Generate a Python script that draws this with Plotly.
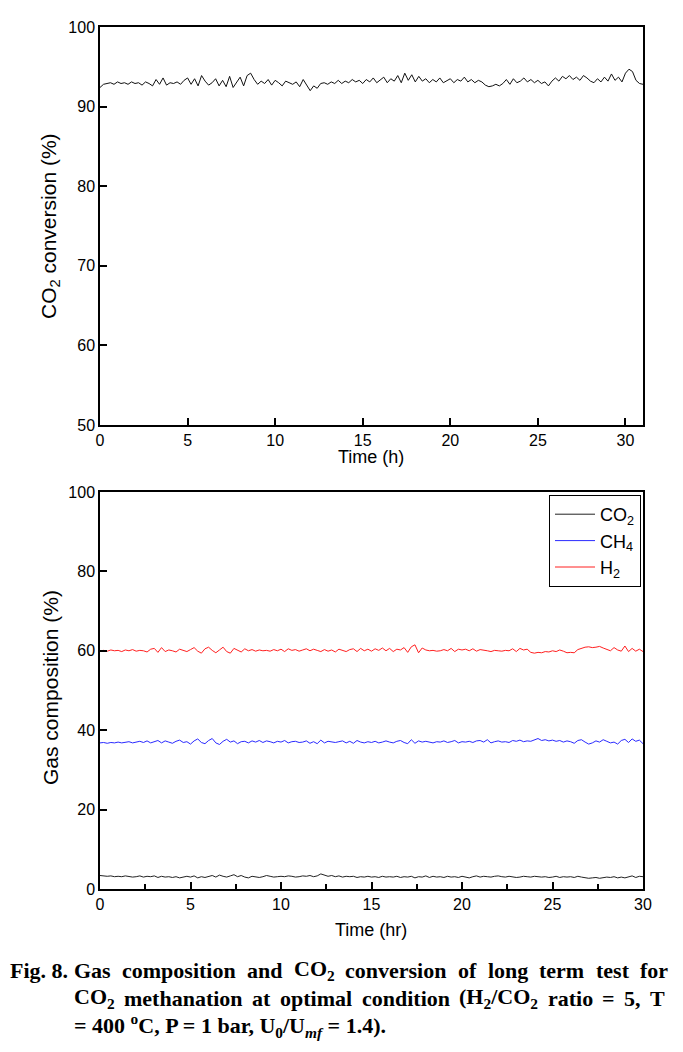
import plotly.graph_objects as go

# ---- data ----
conv_time = [round(i * 0.2, 2) for i in range(156)]
co2_conversion = [
    92.4, 92.8, 92.9, 93.0, 92.8,
    93.1, 92.9, 93.0, 92.8, 93.1,
    92.9, 93.0, 92.7, 93.1, 92.9,
    92.6, 93.4, 92.8, 93.6, 92.7,
    93.0, 92.9, 93.1, 92.8, 93.3,
    93.6, 92.8, 93.5, 92.6, 93.9,
    93.2, 92.7, 93.0, 93.5, 92.6,
    93.3, 92.5, 93.8, 92.4, 93.0,
    93.7, 92.6, 93.9, 94.2, 93.4,
    92.8, 93.2, 92.9, 93.4, 92.7,
    93.3, 93.0, 92.6, 93.2, 93.0,
    92.8, 93.1, 92.5, 93.4, 92.7,
    92.0, 92.6, 92.3, 92.9, 93.0,
    92.8, 93.1, 92.9, 93.3, 92.9,
    93.2, 93.0, 93.4, 93.1, 93.3,
    92.9, 93.4, 93.1, 93.6, 93.0,
    93.3, 93.7, 93.0, 93.5, 93.2,
    93.9, 93.0, 94.2, 93.3, 94.0,
    93.1, 93.8, 93.2, 93.5, 93.0,
    93.4, 93.1, 93.6, 93.0, 93.3,
    93.5, 93.0, 93.4, 93.2, 93.7,
    93.1, 93.4, 93.0, 93.3, 93.1,
    92.7, 92.5, 92.6, 92.8, 92.6,
    92.9, 93.4, 92.8, 93.5, 93.0,
    93.2, 93.6, 93.1, 93.4, 93.0,
    93.3, 92.9, 93.1, 92.6, 93.2,
    93.6, 93.2, 93.8, 93.5, 93.9,
    93.4, 93.7, 93.3, 93.9, 93.6,
    93.2, 93.0, 93.5, 93.1, 93.7,
    93.2, 94.1, 93.3, 93.7, 93.1,
    94.2, 94.7, 94.4, 93.3, 92.9, 92.8,
]

comp_time = [round(i * 0.2, 2) for i in range(151)]
h2_comp = [
    60.0, 60.1, 59.9, 60.2, 60.0,
    60.1, 59.8, 60.2, 60.0, 60.3,
    59.9, 60.1, 60.0, 59.7, 60.4,
    60.6, 59.6, 60.8, 59.8, 60.2,
    60.0, 59.7, 60.4, 60.1, 59.8,
    60.3, 60.8, 59.9, 59.4, 60.5,
    60.9, 60.1, 59.5, 60.2, 60.9,
    59.8, 59.4, 60.6, 60.2, 59.7,
    60.5, 60.0, 60.3, 59.9, 60.2,
    60.0, 60.1, 59.9, 60.3, 60.0,
    60.4, 59.8, 60.5, 60.1, 60.3,
    59.9, 60.2, 60.5, 60.0, 60.4,
    60.1, 59.8, 60.3, 59.9, 60.2,
    59.7, 60.4, 60.0, 59.8, 60.3,
    60.5, 59.8, 60.6, 60.0, 60.4,
    59.9, 60.5, 60.1, 60.7, 60.0,
    60.6, 59.8, 60.4, 60.2, 60.8,
    59.6, 61.0, 61.5, 59.5, 60.7,
    60.2, 60.0, 60.1, 59.9, 60.0,
    60.3, 60.0, 60.6, 59.8, 60.4,
    60.2, 60.4, 60.0, 60.5, 59.9,
    60.3, 60.2, 60.0, 59.8, 60.1,
    60.0, 59.9, 60.1, 60.0, 60.5,
    59.8, 60.6, 60.2, 60.4, 59.6,
    59.4, 59.6, 59.5, 59.8, 59.7,
    60.0, 59.8, 60.2, 59.9, 59.5,
    59.6, 59.5, 60.3, 60.6, 60.9,
    61.0, 60.8, 60.9, 61.1, 60.7,
    60.3, 60.0, 60.8, 60.2, 59.9,
    61.2, 59.8, 60.6, 59.9, 60.4, 59.8,
]
ch4_comp = [
    36.8, 36.9, 36.7, 36.9, 36.8,
    37.0, 36.8, 36.9, 37.1, 36.8,
    37.0, 37.2, 36.9, 37.3, 36.8,
    37.1, 37.4, 36.8, 37.3, 37.0,
    36.7, 37.2, 37.5, 36.9, 37.1,
    36.5, 37.3, 37.8, 36.9, 36.6,
    37.4, 37.9, 36.8, 36.4, 37.2,
    37.7, 37.0, 37.3, 36.6, 37.1,
    37.2, 36.8, 37.3, 37.0, 37.4,
    36.9, 37.3, 37.1, 36.8, 37.2,
    37.0, 37.4, 36.8, 37.1, 37.2,
    36.9, 37.0, 37.3, 36.7, 37.1,
    36.6, 37.5, 36.8, 37.2, 37.0,
    36.9, 37.1, 37.3, 36.8, 37.2,
    36.7, 37.4, 37.0, 36.8, 37.1,
    36.9, 37.2, 36.8, 37.0, 37.3,
    37.0, 36.8, 37.2, 37.4, 36.9,
    36.6, 37.6, 36.7, 37.3, 37.0,
    37.2, 37.0, 36.8, 37.1, 37.0,
    37.3, 36.9, 37.1, 37.4, 36.8,
    37.1, 37.0, 37.2, 36.9, 37.3,
    37.4, 37.0, 37.6, 36.8, 37.1,
    37.3, 37.0, 37.1, 36.9, 37.4,
    37.2, 37.5, 37.1, 37.3, 37.2,
    37.6, 37.9, 37.4, 37.6, 37.3,
    37.5, 37.2, 37.4, 37.0, 37.3,
    37.1, 36.7, 37.4, 37.6, 37.0,
    36.5, 36.8, 37.3, 37.0, 37.6,
    37.2, 36.8, 37.0, 36.5, 37.4,
    37.7, 36.9, 37.8, 37.2, 37.5, 36.6,
]
co2_comp = [
    3.4, 3.3, 3.2, 3.3, 3.1,
    3.2, 3.1, 3.3, 3.2, 3.0,
    3.1, 3.3, 3.0, 3.2, 3.1,
    3.3, 2.9, 3.2, 3.0, 3.1,
    2.9, 3.1, 2.8, 3.0, 3.2,
    3.0, 3.3, 2.8, 3.1, 2.9,
    3.2, 3.4, 3.0, 3.5, 3.2,
    3.0, 3.3, 3.6, 3.1, 3.4,
    3.0, 2.8, 3.2, 3.0, 2.9,
    3.1, 3.4, 3.2, 3.0, 3.1,
    3.2, 3.1, 3.3, 3.2, 3.0,
    3.1, 3.3, 3.2, 3.4, 3.1,
    3.3, 3.8, 3.5, 3.2, 3.4,
    3.1, 3.3, 3.0, 3.2, 3.1,
    3.2, 2.9, 3.1, 3.0, 3.2,
    3.0, 3.1, 2.9, 3.2, 3.0,
    3.1, 3.0, 3.2, 2.9, 3.1,
    3.0, 3.2, 2.8, 3.1, 3.0,
    3.3, 2.9, 3.2, 3.0, 3.1,
    2.9, 3.2, 3.0, 3.1, 2.9,
    3.2, 3.0, 2.8, 3.1, 3.3,
    3.0, 3.2, 3.1, 3.0, 3.2,
    3.3, 3.1, 3.0, 3.2, 3.1,
    2.9, 3.0, 3.2, 3.1, 3.0,
    3.2, 3.1, 3.0, 3.1, 2.9,
    3.0, 3.2, 2.9, 3.1, 3.0,
    3.1, 2.9, 3.2, 3.0, 2.8,
    2.7, 2.8, 2.9, 2.7, 2.8,
    3.0, 2.9, 3.1, 2.8, 3.0,
    2.8, 3.0, 3.3, 2.9, 3.2, 3.1,
]

series_names = ["CO<sub>2</sub>", "CH<sub>4</sub>", "H<sub>2</sub>"]
series_colors = ["#222222", "#2a2aff", "#ff2020"]
top_xticks = [0, 5, 10, 15, 20, 25, 30]
top_yticks = [50, 60, 70, 80, 90, 100]
bot_xticks = [0, 5, 10, 15, 20, 25, 30]
bot_xminor = [2.5, 7.5, 12.5, 17.5, 22.5, 27.5]
bot_yticks = [0, 20, 40, 60, 80, 100]

# caption: words of the two justified lines, as (main text, subscript) pieces
caption_label = "Fig. 8."
caption_line1 = ["Gas", "composition", "and", "CO|2", "conversion", "of", "long", "term", "test", "for"]
caption_line2 = ["CO|2", "methanation", "at", "optimal", "condition", "(H|2|/CO|2", "ratio", "=", "5,", "T"]
caption_line3 = "= 400 <sup>o</sup>C, P = 1 bar, U<sub>0</sub>/U<sub><i>mf</i></sub> = 1.4)."

FONT = "Liberation Sans, Arial, sans-serif"
SERIF = "Liberation Serif, Times New Roman, serif"

# approximate Times-Bold advance widths (per 1000 em) used to justify the caption
TB = {" ": 250, "(": 333, ")": 333, ",": 250, ".": 250, "/": 278, "=": 570,
      "C": 722, "F": 611, "G": 778, "H": 778, "O": 778, "P": 611, "T": 667, "U": 722,
      "a": 500, "b": 556, "c": 444, "d": 556, "e": 444, "f": 333, "g": 500, "h": 556,
      "i": 278, "l": 278, "m": 833, "n": 556, "o": 500, "p": 556, "r": 444, "s": 389,
      "t": 333, "v": 500}
for dch in "0123456789":
    TB[dch] = 500


def word_html_and_width(w, size):
    parts = w.split("|")
    html, width = "", 0.0
    for i, p in enumerate(parts):
        if i % 2 == 1:
            html += "<sub>" + p + "</sub>"
            width += sum(TB.get(c, 500) for c in p) * 0.7
        else:
            html += p
            width += sum(TB.get(c, 500) for c in p)
    return "<b>" + html + "</b>", width * size / 1000.0


fig = go.Figure()
fig.add_trace(go.Scatter(x=conv_time, y=co2_conversion, mode="lines",
                         line=dict(color="#111111", width=1), showlegend=False,
                         xaxis="x", yaxis="y"))
for name, col, ys in zip(series_names, series_colors, [co2_comp, ch4_comp, h2_comp]):
    fig.add_trace(go.Scatter(x=comp_time, y=ys, mode="lines", name=name,
                             line=dict(color=col, width=1), xaxis="x2", yaxis="y2"))

axis_common = dict(showline=True, linecolor="black", linewidth=1.5, mirror=True,
                   ticks="inside", ticklen=7, tickwidth=1.5, tickcolor="black",
                   showgrid=False, zeroline=False,
                   tickfont=dict(family=FONT, size=16, color="black"))

# page has an 8px body margin; plot area placed at page x 100..643, y 27..889
fig.update_layout(
    width=667, height=1036,
    margin=dict(l=92, r=32, t=19, b=155),
    paper_bgcolor="white", plot_bgcolor="white",
    font=dict(family=FONT, color="black"),
    xaxis=dict(domain=[0, 1], anchor="y", range=[0, 31], tickvals=top_xticks, **axis_common),
    yaxis=dict(domain=[0.5383, 1], anchor="x", range=[50, 100], tickvals=top_yticks, **axis_common),
    xaxis2=dict(domain=[0, 1], anchor="y2", range=[0, 30], tickvals=bot_xticks,
                minor=dict(tickvals=bot_xminor, ticks="inside", ticklen=5,
                           tickwidth=1.5, tickcolor="black"),
                **axis_common),
    yaxis2=dict(domain=[0, 0.4606], anchor="x2", range=[0, 100], tickvals=bot_yticks, **axis_common),
    legend=dict(x=(641 - 100) / 543, y=(889 - 495) / 862, xanchor="right", yanchor="top",
                bordercolor="black", borderwidth=1, bgcolor="white",
                font=dict(family=FONT, size=18, color="black"),
                itemwidth=40, tracegroupgap=0),
)


def px_x(p):
    return (p - 100) / 543


def px_y(p):
    return (889 - p) / 862


annotations = [
    dict(text="Time (h)", x=px_x(371), y=px_y(457)),
    dict(text="Time (hr)", x=px_x(371), y=px_y(930)),
    dict(text="CO<sub>2</sub> conversion (%)", x=px_x(50), y=px_y(226), textangle=-90),
    dict(text="Gas composition (%)", x=px_x(50), y=px_y(688), textangle=-90),
]
for a in annotations:
    a.update(xref="paper", yref="paper", showarrow=False, xanchor="center", yanchor="middle",
             font=dict(family=FONT, size=18 if "Time" in a["text"] else 21, color="black"))

CAP_SIZE = 22
cap_font = dict(family=SERIF, size=CAP_SIZE, color="black")
annotations.append(dict(text="<b>" + caption_label + "</b>", x=px_x(8), y=px_y(970),
                        xref="paper", yref="paper", showarrow=False,
                        xanchor="left", yanchor="middle", font=cap_font))
for words, ypix, x0, x1 in ((caption_line1, 970, 72, 666), (caption_line2, 998, 72, 663)):
    items = [word_html_and_width(w, CAP_SIZE) for w in words]
    total = sum(wd for _, wd in items)
    gap = (x1 - x0 - total) / (len(items) - 1)
    xpos = x0
    for html, wd in items:
        annotations.append(dict(text=html, x=px_x(xpos), y=px_y(ypix),
                                xref="paper", yref="paper", showarrow=False,
                                xanchor="left", yanchor="middle", font=cap_font))
        xpos += wd + gap
annotations.append(dict(text="<b>" + caption_line3 + "</b>", x=px_x(72), y=px_y(1026),
                        xref="paper", yref="paper", showarrow=False,
                        xanchor="left", yanchor="middle", font=cap_font))
fig.update_layout(annotations=annotations)

fig.write_html("out.html")
